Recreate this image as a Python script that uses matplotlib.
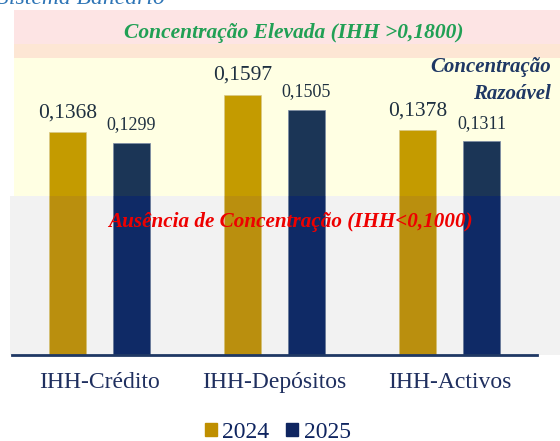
import matplotlib
matplotlib.use("Agg")
import matplotlib.pyplot as plt
from matplotlib.patches import Rectangle, Patch
import numpy as np

plt.rcParams['font.family'] = ['Liberation Serif', 'DejaVu Serif']

# dados
categorias = ['IHH-Crédito', 'IHH-Depósitos', 'IHH-Activos']
anos = ['2024', '2025']
ihh_2024 = [0.1368, 0.1597, 0.1378]
ihh_2025 = [0.1299, 0.1505, 0.1311]

# limites das zonas de concentração
lim_ausencia = 0.0975
lim_razoavel = 0.182
lim_transicao = 0.191
lim_topo = 0.2117

# cores
cor_2024 = '#C49B00'
cor_2025 = '#1B3556'
cor_2024_baixo = '#BA8F0E'
cor_2025_baixo = '#0F2A66'
cor_eixo = '#1F3864'

fig = plt.figure(figsize=(5.6, 4.41), dpi=100)
ax = fig.add_axes([12 / 560, 86 / 441, 525 / 560, 345 / 441])
ax.set_xlim(-0.5, 2.5)
ax.set_ylim(0, lim_topo)
ax.patch.set_visible(False)

# faixas de fundo (x em fração dos eixos, y em dados)
tr = ax.get_yaxis_transform()
ax.add_patch(Rectangle((0.004, lim_transicao), 1.05, lim_topo - lim_transicao,
                       transform=tr, color='#FDE4E4', zorder=0, clip_on=False, lw=0))
ax.add_patch(Rectangle((0.004, lim_razoavel), 1.05, lim_transicao - lim_razoavel,
                       transform=tr, color='#FDE6D4', zorder=0, clip_on=False, lw=0))
ax.add_patch(Rectangle((0.004, lim_ausencia), 1.05, lim_razoavel - lim_ausencia,
                       transform=tr, color='#FFFFE3', zorder=0, clip_on=False, lw=0))
cinza = Rectangle((-0.004, 0), 1.05, lim_ausencia,
                  transform=tr, color='#F2F2F2', zorder=0, clip_on=False, lw=0)
ax.add_patch(cinza)

x = np.arange(len(categorias))
w = 0.211
d = 0.183

b1 = ax.bar(x - d, ihh_2024, w, color=cor_2024, zorder=2,
            edgecolor='#D8C98A', linewidth=0.5)
b2 = ax.bar(x + d, ihh_2025, w, color=cor_2025, zorder=2,
            edgecolor='#7C8BA6', linewidth=0.5)
# parte das barras dentro da faixa cinzenta
b1b = ax.bar(x - d, ihh_2024, w, color=cor_2024_baixo, zorder=3,
             edgecolor='#D8C98A', linewidth=0.5)
b2b = ax.bar(x + d, ihh_2025, w, color=cor_2025_baixo, zorder=3,
             edgecolor='#7C8BA6', linewidth=0.5)
for p in list(b1b) + list(b2b):
    p.set_clip_path(cinza)

for xi, v in zip(x - d, ihh_2024):
    ax.annotate(f"{v:.4f}".replace('.', ','), (xi, v), xytext=(0, 7),
                textcoords='offset points', ha='center', va='bottom',
                fontsize=15.5, color='#1F3040')
for xi, v in zip(x + d, ihh_2025):
    ax.annotate(f"{v:.4f}".replace('.', ','), (xi, v), xytext=(0, 7),
                textcoords='offset points', ha='center', va='bottom',
                fontsize=13, color='#1F3040')

# textos das zonas
ax.text(1.11, 0.1975, 'Concentração Elevada (IHH >0,1800)', ha='center', va='center',
        fontsize=15.5, color='#21A055', fontweight='bold', fontstyle='italic', zorder=5)
ax.text(1.027, 0.1685, 'Concentração\nRazoável', transform=tr, ha='right', va='center',
        multialignment='right', fontsize=15, color='#1F3864', fontweight='bold',
        fontstyle='italic', linespacing=1.45, zorder=5)
ax.text(1.09, 0.0815, 'Ausência de Concentração (IHH<0,1000)', ha='center', va='center',
        fontsize=15.2, color='#EE0000', fontweight='bold', fontstyle='italic', zorder=5)

# eixos
for s in ['top', 'right', 'left']:
    ax.spines[s].set_visible(False)
ax.spines['bottom'].set_color(cor_eixo)
ax.spines['bottom'].set_linewidth(2)
ax.spines['bottom'].set_zorder(6)
ax.set_yticks([])
ax.set_xticks(x)
ax.set_xticklabels(categorias, fontsize=17, color='#1F2F5F')
ax.tick_params(axis='x', length=0, pad=12)

# título cortado no topo
fig.text(-0.005, 0.991, 'Sistema Bancário', fontsize=17, color='#2E75B6',
         fontstyle='italic', ha='left', va='baseline')

handles = [Patch(color='#BF8F00'), Patch(color='#0F2560')]
fig.legend(handles, anos, loc='center', bbox_to_anchor=(0.496, 0.02), ncol=2,
           frameon=False, fontsize=17, handlelength=0.5, handleheight=0.5,
           handletextpad=0.25, columnspacing=0.7, labelcolor='#0F2560')

fig.savefig('out.png', dpi=100)
